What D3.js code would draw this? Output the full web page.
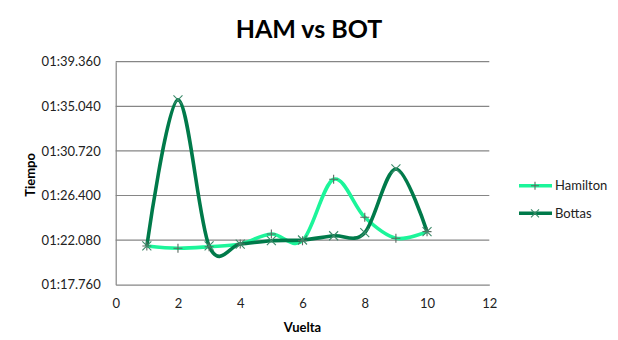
<!DOCTYPE html>
<html><head><meta charset="utf-8">
<script src="https://cdn.jsdelivr.net/npm/d3@7"></script>
<style>body{margin:0;background:#fff}svg{display:block}</style>
</head><body><svg id="c" width="618" height="340"></svg>
<script>
const laps = [1,2,3,4,5,6,7,8,9,10];
const hamilton = [81.51,81.29,81.44,81.70,82.67,82.02,87.97,84.29,82.26,82.90];
const bottas = [81.51,95.66,81.51,81.70,82.02,82.09,82.50,82.80,88.97,82.90];
const yTicks = [77.76,82.08,86.40,90.72,95.04,99.36];
const xTicks = [0,2,4,6,8,10,12];
const seriesNames = ["Hamilton","Bottas"];

const svg = d3.select("#c");
const font = "Lato, 'Open Sans', sans-serif";
const x = d3.scaleLinear().domain([0,12]).range([115.7,489.3]);
const y = d3.scaleLinear().domain([77.76,99.36]).range([284.7,61.7]);

function fmt(s){
  const m = Math.floor(s/60); const r = s - m*60;
  const ss = Math.floor(r); const ms = Math.round((r-ss)*1000);
  return String(m).padStart(2,"0")+":"+String(ss).padStart(2,"0")+"."+String(ms).padStart(3,"0");
}

// gridlines
svg.append("g").selectAll("line").data(yTicks.slice(1)).join("line")
  .attr("x1",x(0)).attr("x2",x(12)).attr("y1",d=>y(d)).attr("y2",d=>y(d))
  .attr("stroke","#868686").attr("stroke-width",1.2);

// axes
const yAxis = svg.append("g").attr("transform",`translate(${x(0)},0)`)
  .call(d3.axisLeft(y).tickValues(yTicks).tickFormat(fmt).tickSize(0).tickPadding(15));
const xAxis = svg.append("g").attr("transform",`translate(0,${y(77.76)})`)
  .call(d3.axisBottom(x).tickValues(xTicks).tickSize(0).tickPadding(14));
[yAxis,xAxis].forEach(a=>{
  a.select(".domain").attr("stroke","#868686").attr("stroke-width",1.2);
  a.selectAll("text").attr("font-family",font).attr("font-size",13).attr("fill","#222");
});

// lines
const line = d3.line().x((d,i)=>x(laps[i])).y(d=>y(d)).curve(d3.curveCardinal.tension(0));
const colors = ["#1cf59a","#007a4a"];
const data = [hamilton,bottas];
data.forEach((s,k)=>{
  svg.append("path").attr("d",line(s)).attr("fill","none")
    .attr("stroke",colors[k]).attr("stroke-width",3.6).attr("stroke-linejoin","round");
});
// markers
const plus = d3.symbol().type(d3.symbolCross);
svg.append("g").selectAll("path").data(hamilton).join("path")
  .attr("d",(d,i)=>`M${x(laps[i])-4.5},${y(d)}h9M${x(laps[i])},${y(d)-4.5}v9`)
  .attr("stroke","#5a6b60").attr("stroke-width",1.1);
svg.append("g").selectAll("path").data(bottas).join("path")
  .attr("d",(d,i)=>{const cx=x(laps[i]),cy=y(d);return `M${cx-4.5},${cy-4.5}L${cx+4.5},${cy+4.5}M${cx-4.5},${cy+4.5}L${cx+4.5},${cy-4.5}`;})
  .attr("stroke","#3d8a6a").attr("stroke-width",1.1);

// title
svg.append("text").attr("x",309).attr("y",38).attr("text-anchor","middle")
  .attr("font-family",font).attr("font-weight","bold").attr("font-size",25).text("HAM vs BOT");
svg.append("text").attr("x",x(6)).attr("y",332).attr("text-anchor","middle")
  .attr("font-family",font).attr("font-weight","bold").attr("font-size",13).text("Vuelta");
svg.append("text").attr("transform","translate(35,175) rotate(-90)").attr("text-anchor","middle")
  .attr("font-family",font).attr("font-weight","bold").attr("font-size",13).text("Tiempo");

// legend
const lg = svg.append("g");
[185.7,213.3].forEach((ly,k)=>{
  lg.append("line").attr("x1",519).attr("x2",552).attr("y1",ly).attr("y2",ly)
    .attr("stroke",colors[k]).attr("stroke-width",3.6);
  if(k===0) lg.append("path").attr("d",`M${531},${ly}h8M${535},${ly-4}v8`).attr("stroke","#5a6b60").attr("stroke-width",1.1);
  else lg.append("path").attr("d",`M${531},${ly-4}L${539},${ly+4}M${531},${ly+4}L${539},${ly-4}`).attr("stroke","#3d8a6a").attr("stroke-width",1.1);
  lg.append("text").attr("x",555).attr("y",ly+4.5).attr("font-family",font).attr("font-size",13)
    .attr("fill","#222").text(seriesNames[k]);
});
</script></body></html>
